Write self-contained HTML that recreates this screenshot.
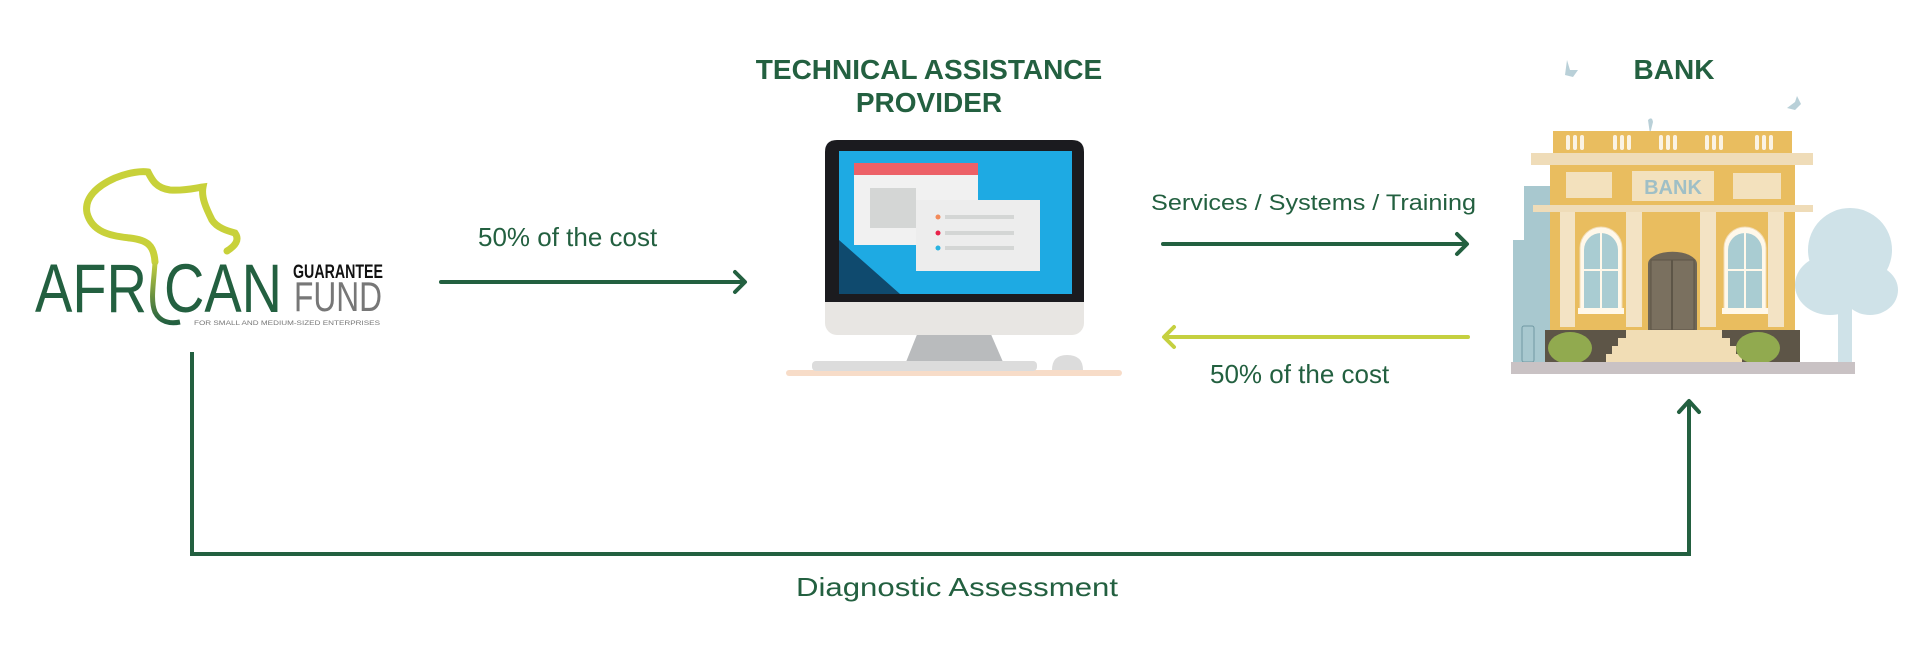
<!DOCTYPE html>
<html><head><meta charset="utf-8"><style>
html,body{margin:0;padding:0;background:#fff;}
svg{display:block;}
text{font-family:"Liberation Sans",sans-serif;}
</style></head><body>
<svg width="1920" height="653" viewBox="0 0 1920 653" xmlns="http://www.w3.org/2000/svg">
<defs>
<linearGradient id="ig" x1="0" y1="0" x2="0" y2="1"><stop offset="0" stop-color="#c5d040"/><stop offset="1" stop-color="#236040"/></linearGradient>
</defs>
<!-- Logo -->
<path d="M155,262 C154,245 147,240 130,238 C110,236 92,232 87,213 C84,198 97,186 115,178 C130,172 142,171 148,172 C152,180 156,188 170,190 C185,191 195,188 203,187 C201,197 206,208 212,220 C217,228 228,231 235,233 C240,240 235,246 227,251" fill="none" stroke="#c8d13a" stroke-width="7" stroke-linecap="round"/>
<path d="M155,262 C154,282 150,300 155,312 C160,322 170,324 180,322" fill="none" stroke="url(#ig)" stroke-width="5"/>
<text x="35" y="312" font-size="69" fill="#236040" textLength="112" lengthAdjust="spacingAndGlyphs">AFR</text>
<text x="164" y="312" font-size="69" fill="#236040" textLength="118" lengthAdjust="spacingAndGlyphs">CAN</text>
<text x="293" y="278" font-size="19" font-weight="bold" fill="#111" textLength="90" lengthAdjust="spacingAndGlyphs">GUARANTEE</text>
<text x="294" y="311" font-size="42" fill="#777" textLength="88" lengthAdjust="spacingAndGlyphs">FUND</text>
<text x="194" y="325" font-size="6.5" fill="#777" textLength="186" lengthAdjust="spacingAndGlyphs">FOR SMALL AND MEDIUM-SIZED ENTERPRISES</text>

<!-- Arrow 1 -->
<text x="478" y="246" font-size="26" fill="#236040">50% of the cost</text>
<line x1="441" y1="282" x2="744" y2="282" stroke="#236040" stroke-width="4" stroke-linecap="round"/>
<polyline points="735,272 745,282 735,292" fill="none" stroke="#236040" stroke-width="4" stroke-linecap="round" stroke-linejoin="round"/>

<!-- Title -->
<text x="929" y="79" font-size="28" font-weight="bold" fill="#236040" text-anchor="middle">TECHNICAL ASSISTANCE</text>
<text x="929" y="112" font-size="28" font-weight="bold" fill="#236040" text-anchor="middle">PROVIDER</text>

<!-- Computer -->
<rect x="786" y="370" width="336" height="6" rx="3" fill="#f7dcc8"/>
<polygon points="918,332 990,332 1003,362 906,362" fill="#b9bbbd"/>
<rect x="812" y="361" width="225" height="10" rx="4" fill="#dcdcdc"/>
<path d="M1052,370 q0,-15 15,-15 q16,0 16,15z" fill="#dcdcdc"/>
<rect x="825" y="140" width="259" height="195" rx="12" fill="#e8e6e3"/>
<path d="M825,152 q0,-12 12,-12 h235 q12,0 12,12 v150 h-259z" fill="#1b1b1f"/>
<rect x="839" y="151" width="233" height="143" fill="#1eaae3"/>
<polygon points="839,240 900,294 839,294" fill="#0f4a6e"/>
<rect x="854" y="163" width="124" height="82" fill="#f1f1f1"/>
<rect x="854" y="163" width="124" height="12" fill="#ec6167"/>
<rect x="870" y="188" width="46" height="40" fill="#d4d6d5"/>
<rect x="916" y="200" width="124" height="71" fill="#ededed"/>
<circle cx="938" cy="217" r="2.5" fill="#f28a5a"/><rect x="945" y="215" width="69" height="4" fill="#d4d6d5"/>
<circle cx="938" cy="233" r="2.5" fill="#e8224a"/><rect x="945" y="231" width="69" height="4" fill="#d4d6d5"/>
<circle cx="938" cy="248" r="2.5" fill="#2ab3e0"/><rect x="945" y="246" width="69" height="4" fill="#d4d6d5"/>

<!-- Right arrows -->
<text x="1151" y="210" font-size="22" fill="#236040" textLength="325" lengthAdjust="spacingAndGlyphs">Services / Systems / Training</text>
<line x1="1163" y1="244" x2="1466" y2="244" stroke="#236040" stroke-width="4" stroke-linecap="round"/>
<polyline points="1457,234 1467,244 1457,254" fill="none" stroke="#236040" stroke-width="4" stroke-linecap="round" stroke-linejoin="round"/>
<line x1="1165" y1="337" x2="1468" y2="337" stroke="#c5d040" stroke-width="4" stroke-linecap="round"/>
<polyline points="1174,327 1164,337 1174,347" fill="none" stroke="#c5d040" stroke-width="4" stroke-linecap="round" stroke-linejoin="round"/>
<text x="1210" y="383" font-size="26" fill="#236040">50% of the cost</text>

<!-- Bank -->
<text x="1674" y="79" font-size="28" font-weight="bold" fill="#236040" text-anchor="middle">BANK</text>
<path d="M1567,60 l3,10 l8,0 l-5,7 l-8,-2z" fill="#b9d0d8"/>
<path d="M1787,108 l8,-6 l2,-6 l4,8 l-6,6z" fill="#b9d0d8"/>
<path d="M1648,120 q4,-4 5,2 l-3,12z" fill="#b9d0d8"/>
<rect x="1513" y="240" width="14" height="122" fill="#a8c8cf"/>
<rect x="1524" y="186" width="30" height="176" fill="#a8c8cf"/>
<ellipse cx="1850" cy="250" rx="42" ry="42" fill="#cfe2e8"/>
<ellipse cx="1830" cy="285" rx="35" ry="30" fill="#cfe2e8"/>
<ellipse cx="1870" cy="290" rx="28" ry="25" fill="#cfe2e8"/>
<rect x="1838" y="290" width="14" height="72" fill="#cfe2e8"/>
<rect x="1553" y="131" width="239" height="23" fill="#e9bd5f"/>
<g fill="#fbf3e3">
<rect x="1566" y="135" width="4" height="15" rx="2"/><rect x="1573" y="135" width="4" height="15" rx="2"/><rect x="1580" y="135" width="4" height="15" rx="2"/>
<rect x="1613" y="135" width="4" height="15" rx="2"/><rect x="1620" y="135" width="4" height="15" rx="2"/><rect x="1627" y="135" width="4" height="15" rx="2"/>
<rect x="1659" y="135" width="4" height="15" rx="2"/><rect x="1666" y="135" width="4" height="15" rx="2"/><rect x="1673" y="135" width="4" height="15" rx="2"/>
<rect x="1705" y="135" width="4" height="15" rx="2"/><rect x="1712" y="135" width="4" height="15" rx="2"/><rect x="1719" y="135" width="4" height="15" rx="2"/>
<rect x="1755" y="135" width="4" height="15" rx="2"/><rect x="1762" y="135" width="4" height="15" rx="2"/><rect x="1769" y="135" width="4" height="15" rx="2"/>
</g>
<rect x="1531" y="153" width="282" height="12" fill="#efdcb8"/>
<rect x="1550" y="165" width="245" height="167" fill="#e9bd5f"/>
<rect x="1566" y="172" width="46" height="26" fill="#f3e1bd"/>
<rect x="1632" y="171" width="82" height="30" fill="#f3e1bd"/>
<text x="1673" y="194" font-size="20" font-weight="bold" fill="#9fbfc6" text-anchor="middle">BANK</text>
<rect x="1733" y="173" width="48" height="26" fill="#f3e1bd"/>
<rect x="1533" y="205" width="280" height="7" fill="#efdcb8"/>
<g fill="#fff8ea" stroke="#f1dcb6">
<path d="M1580,310 v-62 a21,21 0 0 1 42,0 v62z"/>
<path d="M1724,310 v-62 a21,21 0 0 1 42,0 v62z"/>
</g>
<path d="M1584,308 v-58 a17,17 0 0 1 34,0 v58z" fill="#a9ccd2"/>
<path d="M1728,308 v-58 a17,17 0 0 1 34,0 v58z" fill="#a9ccd2"/>
<g stroke="#fff8ea" stroke-width="2"><line x1="1601" y1="232" x2="1601" y2="308"/><line x1="1584" y1="270" x2="1618" y2="270"/><line x1="1745" y1="232" x2="1745" y2="308"/><line x1="1728" y1="270" x2="1762" y2="270"/></g>
<rect x="1578" y="308" width="46" height="6" fill="#fff8ea"/><rect x="1722" y="308" width="46" height="6" fill="#fff8ea"/>
<path d="M1648,330 v-66 a24,12 0 0 1 49,0 v66z" fill="#6f6656"/>
<rect x="1651" y="260" width="43" height="70" fill="#7a705f" stroke="#5d5547"/>
<line x1="1672" y1="260" x2="1672" y2="330" stroke="#5d5547" stroke-width="2"/>
<g fill="#f3e3c4"><rect x="1560" y="212" width="15" height="115"/><rect x="1626" y="212" width="16" height="115"/><rect x="1700" y="212" width="16" height="115"/><rect x="1768" y="212" width="16" height="115"/></g>
<rect x="1545" y="330" width="255" height="32" fill="#5d5547"/>
<g fill="#f1ddb5"><rect x="1626" y="330" width="96" height="8"/><rect x="1618" y="338" width="112" height="8"/><rect x="1612" y="346" width="124" height="8"/><rect x="1606" y="354" width="136" height="8"/></g>
<ellipse cx="1570" cy="348" rx="22" ry="16" fill="#91aa4f"/>
<ellipse cx="1758" cy="348" rx="22" ry="16" fill="#91aa4f"/>
<rect x="1522" y="326" width="12" height="36" rx="2" fill="#a8c8cf" stroke="#6f99a3"/>
<rect x="1511" y="362" width="344" height="12" fill="#c9c2c4"/>

<!-- Diagnostic line -->
<polyline points="192,352 192,554 1689,554 1689,402" fill="none" stroke="#236040" stroke-width="4" stroke-linejoin="miter"/>
<polyline points="1679,412 1689,401 1699,412" fill="none" stroke="#236040" stroke-width="4" stroke-linecap="round" stroke-linejoin="round"/>
<text x="796" y="596" font-size="26" fill="#236040" textLength="322" lengthAdjust="spacingAndGlyphs">Diagnostic Assessment</text>
</svg>
</body></html>
